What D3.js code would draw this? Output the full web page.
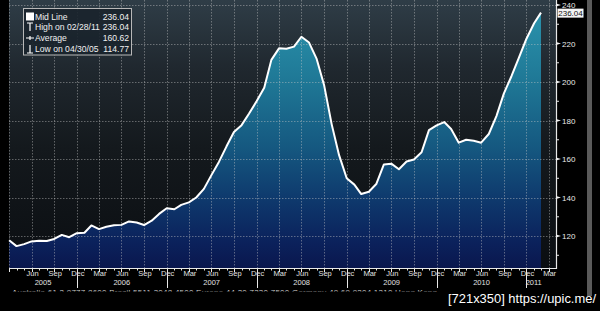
<!DOCTYPE html>
<html>
<head>
<meta charset="utf-8">
<script src="https://cdn.jsdelivr.net/npm/d3@7"></script>
<style>
  html, body { margin: 0; padding: 0; background: #000; overflow: hidden; }
  text { font-family: "Liberation Sans", Arial, sans-serif; }
</style>
</head>
<body>
<script>
// Monthly values (month end), starting March 2005
const startYear = 2005;
const startMonth = 2; // March (0-based)
const midLine = [
  117.8, 114.77, 115.8, 117.2, 117.6, 117.4, 118.5, 120.6, 119.4, 121.5,
  121.7, 125.5, 123.6, 124.8, 125.6, 125.8, 127.6, 127.0, 125.7, 128.0,
  131.5, 134.4, 133.9, 136.2, 137.5, 140.0, 144.5, 151.5, 158.5, 166.6,
  174.0, 177.6, 183.5, 190.0, 197.0, 211.5, 217.5, 217.3, 218.4, 223.5,
  220.5, 212.0, 198.5, 178.0, 162.0, 150.0, 146.7, 141.8, 143.0, 147.0,
  157.2, 157.6, 154.7, 158.7, 159.8, 163.5, 175.0, 177.5, 179.2, 175.6,
  168.5, 170.0, 169.5, 168.5, 173.0, 182.3, 194.0, 203.0, 212.5, 222.5,
  230.5, 236.04
];

// Legend rows
const legendLabels = ["Mid Line", "High on 02/28/11", "Average", "Low on 04/30/05"];
const legendValues = ["236.04", "236.04", "160.62", "114.77"];

// Axis ticks
const yTicks = [120, 140, 160, 180, 200, 220, 240];
const monthNames = ["Jan", "Feb", "Mar", "Apr", "May", "Jun", "Jul", "Aug", "Sep", "Oct", "Nov", "Dec"];
const lastLabel = "236.04";
const footer = "Australia 61 2 9777 8600 Brazil 5511 3048 4500 Europe 44 20 7330 7500 Germany 49 69 9204 1210 Hong Kong";
const watermark = "[721x350] https://upic.me/";

const data = midLine.map((v, i) => ({
  date: new Date(startYear, startMonth + i + 1, 0),
  value: v
}));

const W = 600, H = 311;
const plot = { left: 9, right: 556, top: 0, bottom: 268 };

const svg = d3.select("body").append("svg")
  .attr("width", W)
  .attr("height", H)
  .style("display", "block");

svg.append("rect").attr("width", W).attr("height", H).attr("fill", "#000");

// Scales
const x = d3.scaleTime()
  .domain([new Date(2005, 3, 30), new Date(2011, 1, 28)])
  .range([16.5, 541]);

const y = d3.scaleLinear()
  .domain([103.4, 242.6])
  .range([plot.bottom, plot.top]);

// Gradients
const defs = svg.append("defs");
const bg = defs.append("linearGradient").attr("id", "bg")
  .attr("x1", 0).attr("x2", 0).attr("y1", 0).attr("y2", 1);
[[0, "#2f3d47"], [0.25, "#20282f"], [0.55, "#14191d"], [1, "#0b0e12"]]
  .forEach(s => bg.append("stop").attr("offset", s[0]).attr("stop-color", s[1]));

const fillGrad = defs.append("linearGradient").attr("id", "fillGrad")
  .attr("gradientUnits", "userSpaceOnUse")
  .attr("x1", 0).attr("x2", 0).attr("y1", plot.top).attr("y2", plot.bottom);
[[0, "#2c97b0"], [0.3, "#1f7896"], [0.55, "#155880"], [0.75, "#0e386c"], [0.9, "#0b225c"], [1, "#0a174e"]]
  .forEach(s => fillGrad.append("stop").attr("offset", s[0]).attr("stop-color", s[1]));

// Plot background
svg.append("rect")
  .attr("x", plot.left).attr("y", plot.top)
  .attr("width", plot.right - plot.left).attr("height", plot.bottom - plot.top)
  .attr("fill", "url(#bg)");

// Area + line
const area = d3.area()
  .x(d => x(d.date))
  .y0(plot.bottom)
  .y1(d => y(d.value));

const line = d3.line()
  .x(d => x(d.date))
  .y(d => y(d.value));

svg.append("path")
  .datum(data)
  .attr("fill", "url(#fillGrad)")
  .attr("d", area);

// Quarter ticks (month ends of Mar/Jun/Sep/Dec)
const quarterEnds = [];
for (let yr = 2005; yr <= 2011; yr++) {
  [2, 5, 8, 11].forEach(m => {
    const d = new Date(yr, m + 1, 0);
    if (d >= new Date(2005, 2, 31) && d <= new Date(2011, 2, 31)) quarterEnds.push(d);
  });
}
const monthEnds = d3.range(0, 73).map(i => new Date(startYear, startMonth + i + 1, 0));

// Grid lines
const grid = svg.append("g")
  .attr("stroke", "#c8c8c8")
  .attr("stroke-opacity", 0.55)
  .attr("stroke-width", 0.8)
  .attr("stroke-dasharray", "1.5,1.5");

grid.selectAll(".hgrid")
  .data(yTicks)
  .enter().append("line")
  .attr("x1", plot.left).attr("x2", plot.right)
  .attr("y1", d => Math.round(y(d)) + 0.5)
  .attr("y2", d => Math.round(y(d)) + 0.5);

grid.selectAll(".vgrid")
  .data(quarterEnds.filter(d => x(d) < plot.right - 2))
  .enter().append("line")
  .attr("x1", d => Math.round(x(d)) + 0.5).attr("x2", d => Math.round(x(d)) + 0.5)
  .attr("y1", plot.top).attr("y2", plot.bottom);

svg.append("path")
  .datum(data)
  .attr("fill", "none")
  .attr("stroke", "#fff")
  .attr("stroke-width", 2)
  .attr("stroke-linejoin", "round")
  .attr("d", line);

// X axis baseline and ticks
const xAxis = svg.append("g").attr("stroke", "#e8e8e8");
xAxis.append("line")
  .attr("x1", plot.left).attr("x2", plot.right)
  .attr("y1", plot.bottom + 0.5).attr("y2", plot.bottom + 0.5)
  .attr("stroke-width", 1.2);

xAxis.selectAll(".mtick")
  .data(monthEnds.filter(d => x(d) <= plot.right))
  .enter().append("line")
  .attr("x1", d => Math.round(x(d)) + 0.5).attr("x2", d => Math.round(x(d)) + 0.5)
  .attr("y1", plot.bottom).attr("y2", d => plot.bottom + (d.getMonth() % 3 === 2 ? 4 : 2.5));

// Year separators at December ticks
const yearEnds = quarterEnds.filter(d => d.getMonth() === 11);
xAxis.selectAll(".ysep")
  .data(yearEnds)
  .enter().append("line")
  .attr("x1", d => Math.round(x(d)) + 0.5).attr("x2", d => Math.round(x(d)) + 0.5)
  .attr("y1", plot.bottom).attr("y2", plot.bottom + 20);

// Month labels (first quarter end sits on the plot edge, so skip it)
svg.selectAll(".mlabel")
  .data(quarterEnds.filter(d => x(d) > plot.left + 10))
  .enter().append("text")
  .attr("x", d => x(d) + 1)
  .attr("y", 276)
  .attr("text-anchor", "middle")
  .attr("font-size", 7.5)
  .attr("fill", "#e0e0e0")
  .text(d => monthNames[d.getMonth()]);

// Year labels centred on the visible span of each year
const first = data[0].date, last = data[data.length - 1].date;
d3.range(2005, 2012).forEach(yr => {
  const a = Math.max(x(new Date(yr - 1, 11, 31)), x(first));
  const b = Math.min(x(new Date(yr, 11, 31)), x(last));
  svg.append("text")
    .attr("x", (a + b) / 2)
    .attr("y", 285)
    .attr("text-anchor", "middle")
    .attr("font-size", 7.5)
    .attr("fill", "#e0e0e0")
    .text(yr);
});

// Right axis
const yAxis = svg.append("g");
yAxis.append("line")
  .attr("x1", plot.right + 0.5).attr("x2", plot.right + 0.5)
  .attr("y1", plot.top).attr("y2", plot.bottom + 1)
  .attr("stroke", "#e8e8e8").attr("stroke-width", 1.2);

yAxis.selectAll(".minor")
  .data(d3.range(110, 241, 10).filter(v => v % 20 !== 0))
  .enter().append("line")
  .attr("x1", plot.right).attr("x2", plot.right + 3)
  .attr("y1", d => y(d)).attr("y2", d => y(d))
  .attr("stroke", "#e8e8e8");

yAxis.selectAll(".major")
  .data(yTicks)
  .enter().append("path")
  .attr("d", d => `M${plot.right},${y(d) - 1.5}L${plot.right + 5},${y(d)}L${plot.right},${y(d) + 1.5}Z`)
  .attr("fill", "#f0f0f0");

yAxis.selectAll(".ylabel")
  .data(yTicks)
  .enter().append("text")
  .attr("x", plot.right + 6)
  .attr("y", d => y(d) + 3)
  .attr("font-size", 8)
  .attr("fill", "#e8e8e8")
  .text(d => d);

// Last value box
const lastY = y(midLine[midLine.length - 1]);
svg.append("rect")
  .attr("x", plot.right + 1.5).attr("y", lastY - 4)
  .attr("width", 26).attr("height", 9)
  .attr("fill", "#f4f4f4");
svg.append("text")
  .attr("x", plot.right + 14.5).attr("y", lastY + 3)
  .attr("text-anchor", "middle")
  .attr("font-size", 8)
  .attr("fill", "#111")
  .text(lastLabel);

// Legend
const legend = svg.append("g");
legend.append("rect")
  .attr("x", 23.5).attr("y", 8.5)
  .attr("width", 108).attr("height", 46.5)
  .attr("fill", "#1a242c").attr("fill-opacity", 0.9)
  .attr("stroke", "#b8b8b8").attr("stroke-width", 1);

const rowY = [16.5, 27, 38, 49];
legendLabels.forEach((lab, i) => {
  legend.append("text")
    .attr("x", 35).attr("y", rowY[i] + 3)
    .attr("font-size", 8.6)
    .attr("fill", "#f0f0f0")
    .text(lab);
  legend.append("text")
    .attr("x", 129).attr("y", rowY[i] + 3)
    .attr("text-anchor", "end")
    .attr("font-size", 8.6)
    .attr("fill", "#f0f0f0")
    .text(legendValues[i]);
});

// Legend symbols
legend.append("rect")
  .attr("x", 26).attr("y", rowY[0] - 4).attr("width", 8).attr("height", 8)
  .attr("fill", "#fff");
legend.append("path")
  .attr("d", `M27,${rowY[1] - 4}h6M30,${rowY[1] - 4}v8`)
  .attr("stroke", "#fff").attr("stroke-width", 1.2).attr("fill", "none");
legend.append("path")
  .attr("d", `M26,${rowY[2]}h8M30,${rowY[2] - 2}v4`)
  .attr("stroke", "#fff").attr("stroke-width", 1.2).attr("fill", "none");
legend.append("path")
  .attr("d", `M30,${rowY[3] - 4}v8M27,${rowY[3] + 4}h6`)
  .attr("stroke", "#fff").attr("stroke-width", 1.2).attr("fill", "none");

// Cut-off footer line (only its upper part shows)
svg.append("text")
  .attr("x", 12).attr("y", 295)
  .attr("font-size", 8)
  .attr("fill", "#cfcfcf")
  .attr("textLength", 425)
  .text(footer);
svg.append("rect")
  .attr("x", 0).attr("y", 291.5).attr("width", W).attr("height", 20)
  .attr("fill", "#000");

// Scrollbar on the right
svg.append("rect")
  .attr("x", 587).attr("y", 0).attr("width", 5).attr("height", 296)
  .attr("fill", "#5a5a5a");

// Watermark
svg.append("text")
  .attr("x", 448).attr("y", 303)
  .attr("font-size", 12)
  .attr("fill", "#fff")
  .attr("textLength", 148)
  .attr("lengthAdjust", "spacingAndGlyphs")
  .text(watermark);
</script>
</body>
</html>
